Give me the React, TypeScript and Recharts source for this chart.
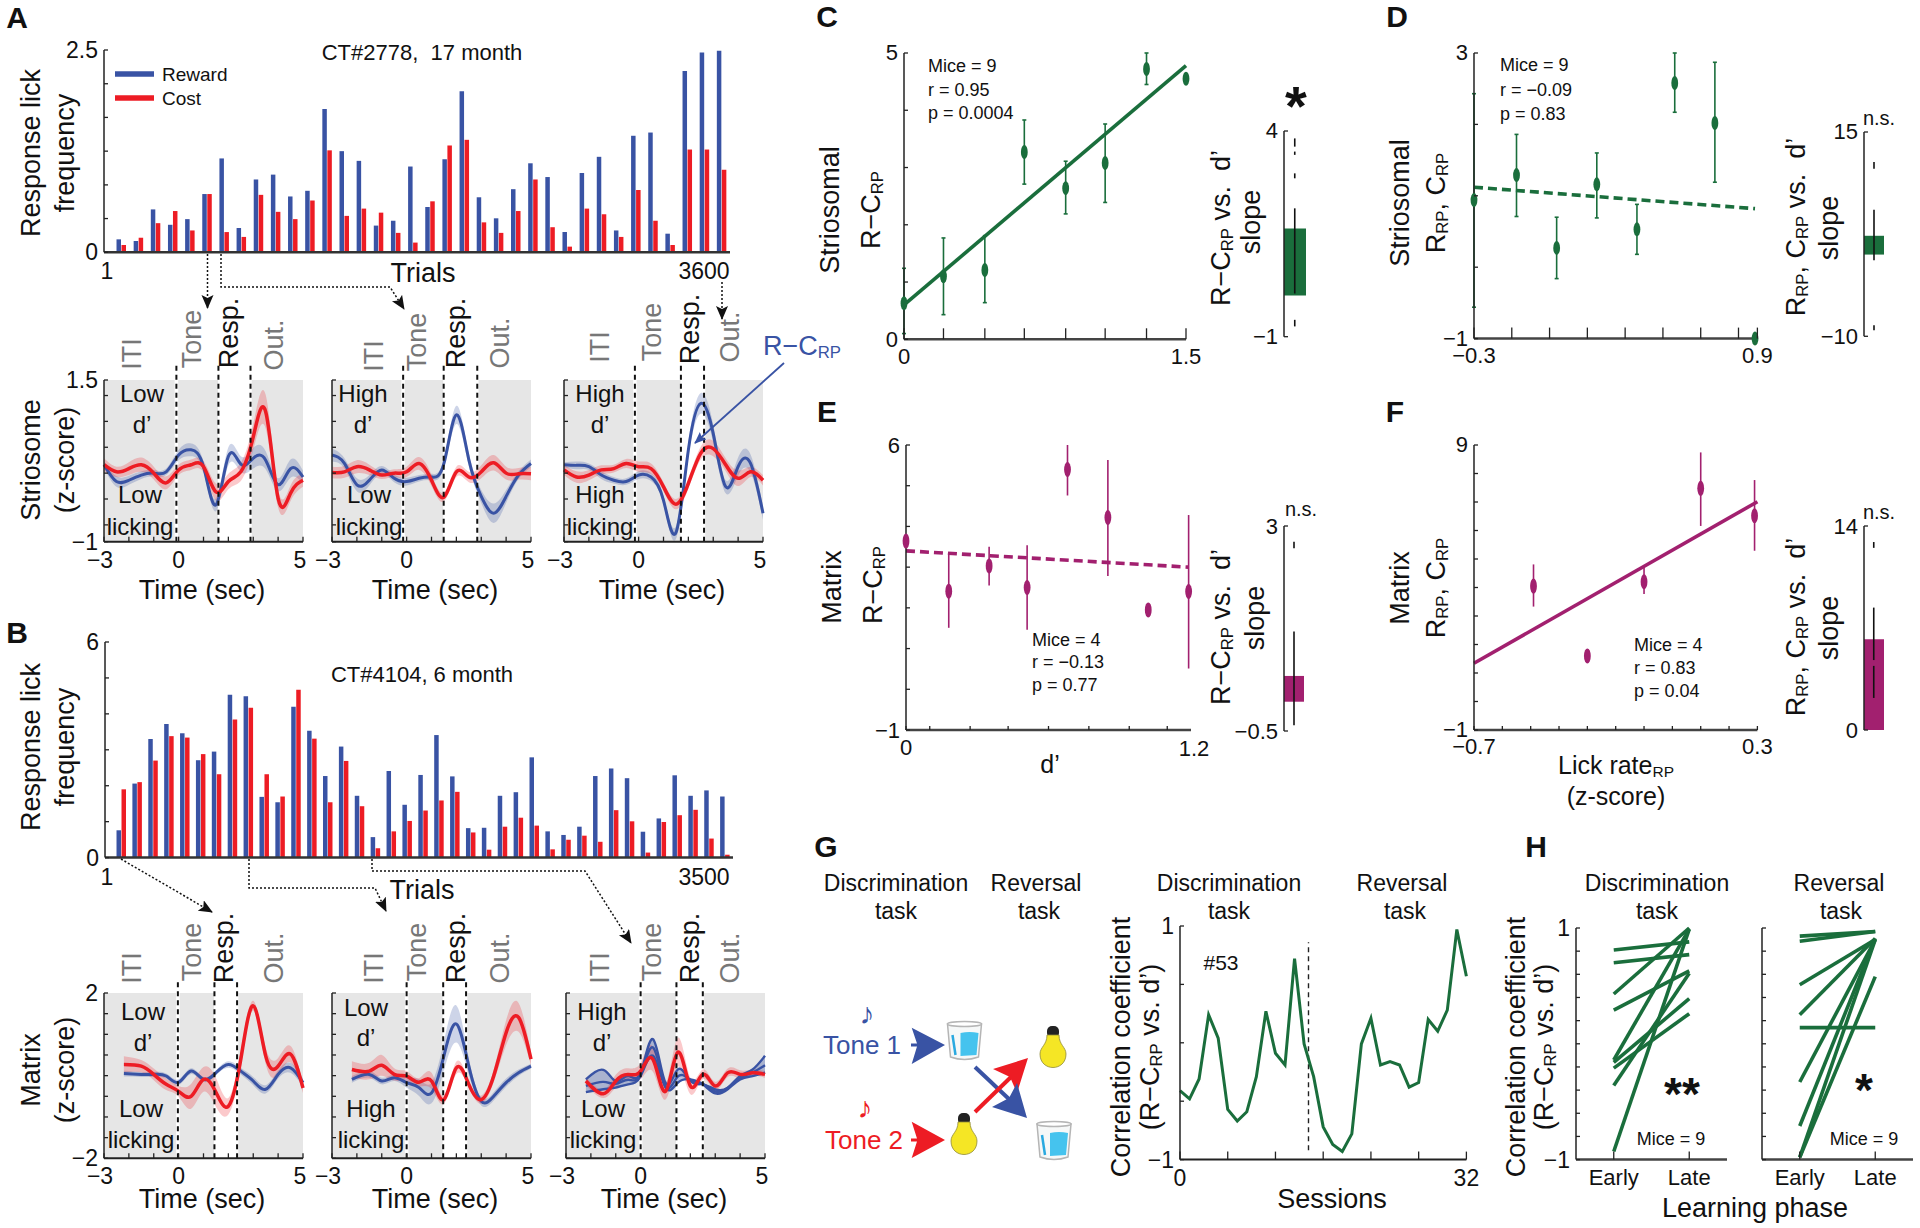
import React from "react"
import {
  BarChart, Bar, ComposedChart, LineChart, Line, Area, XAxis, YAxis,
  ReferenceArea, ReferenceLine, ErrorBar,
} from "recharts"

const BLUE = "#3953a4"
const RED = "#ed1c24"
const GREEN = "#1a6e3c"
const PURPLE = "#a2206f"
const GRAY = "#777777"

// lick frequency bars
const aReward = [.16,.14,.53,.34,.41,.72,1.16,.30,.90,.96,.69,.76,1.77,1.25,1.13,.33,.39,1.06,.56,1.15,1.99,.68,.42,.78,1.10,.93,.25,.98,1.18,.27,1.44,1.48,.23,2.24,2.47,2.49]
const aCost = [.09,.18,.36,.51,.27,.72,.25,.19,.71,.50,.41,.64,1.26,.45,.54,.49,.24,.12,.63,1.32,1.39,.37,.24,.51,.90,.31,.07,.54,.47,.19,.77,.39,.09,1.27,1.27,1.02]
const bReward = [.76,2.06,3.30,3.72,3.46,2.71,2.95,4.53,4.49,1.69,1.54,4.20,3.53,2.27,3.09,1.72,.57,2.41,1.47,2.30,3.41,2.26,.82,.83,1.72,1.82,2.79,.73,.63,.86,2.27,2.48,2.21,.72,1.09,2.29,1.72,1.87,1.70]
const bCost = [1.90,2.10,2.70,3.38,3.34,2.88,2.32,3.84,4.17,2.32,1.70,4.67,3.31,1.54,2.69,1.43,.26,.73,1.02,1.31,1.59,1.83,.70,.22,.86,1.11,.89,.23,.50,.61,.44,1.32,1.01,.14,.99,1.18,1.33,.53,.08]

// z-score traces
const aTimes = [-3,-2.5,-2,-1.5,-1,-.5,0,.5,1,1.5,2,2.5,3,3.5,4,4.5,5]
const bTimes = [-2.2,-1.5,-1,-.5,0,.5,1,1.5,2,2.5,3,3.5,4,4.5,5]

const a1Blue = [.19,-.07,-.05,.03,.06,.08,.34,.42,.16,-.43,.32,.2,.29,.26,-.12,.13,0]
const a1BlueHw = [.05,.08,.07,.06,.05,.05,.08,.1,.08,.1,.14,.12,.16,.14,.1,.14,.1]
const a1Red = [.19,.08,.13,.19,.06,-.09,.11,.19,.16,-.23,-.07,.08,.62,1.01,-.33,-.25,-.05]
const a1RedHw = [.1,.08,.1,.11,.1,.1,.08,.08,.09,.13,.12,.14,.2,.26,.14,.12,.1]

const a2Blue = [.34,.21,-.12,-.05,.11,-.02,-.07,-.02,0,.21,.96,.27,-.30,-.56,-.30,.03,.21]
const a2BlueHw = [.1,.08,.1,.08,.06,.06,.06,.05,.05,.07,.14,.1,.1,.15,.1,.06,.06]
const a2Red = [.07,.08,.16,.11,.03,.06,.08,.21,-.05,-.31,.08,0,.08,.22,.06,.05,.05]
const a2RedHw = [.09,.09,.1,.08,.06,.06,.08,.1,.09,.07,.08,.08,.1,.12,.1,.09,.1]

const a3Blue = [.19,.18,.16,.03,-.05,-.07,.03,0,-.36,-.86,.42,1.14,.67,-.15,.16,.21,-.56]
const a3BlueHw = [.04,.06,.05,.06,.05,.05,.06,.06,.07,.1,.12,.16,.14,.1,.14,.14,.1]
const a3Red = [.11,0,.03,.11,.13,.21,.16,.13,-.15,-.42,-.10,.37,.44,.19,-.02,.08,-.05]
const a3RedHw = [.08,.09,.08,.07,.06,.07,.08,.08,.07,.08,.08,.1,.12,.1,.12,.08,.08]

const b1Blue = [.05,.03,.03,-.01,-.16,.11,-.09,.07,.27,.11,-.13,-.33,.03,.19,-.17]
const b1BlueHw = [.07,.06,.06,.06,.07,.07,.06,.06,.08,.08,.1,.1,.1,.12,.1]
const b1Red = [.27,.23,.03,-.21,-.38,-.5,-.09,-.4,-.74,.4,1.69,.48,.23,.52,-.3]
const b1RedHw = [.2,.15,.14,.14,.13,.3,.3,.35,.2,.2,.12,.2,.2,.2,.12]

const b2Blue = [-.09,.03,-.13,-.05,-.17,-.29,-.42,.48,1.25,.23,-.62,-.5,-.17,.07,.23]
const b2BlueHw = [.08,.08,.08,.08,.12,.2,.25,.35,.45,.2,.1,.1,.1,.08,.06]
const b2Red = [.15,.11,.25,.03,-.01,-.16,-.13,-.58,.19,-.21,-.58,-.01,1.04,1.41,.4]
const b2RedHw = [.2,.2,.25,.15,.12,.1,.2,.1,.15,.08,.1,.15,.3,.35,.15]

const b3BlueUpper = [-.09,.14,-.13,-.01,.07,.88,-.17,.15,-.13,-.21,-.33,-.29,-.01,.15,.48]
const b3BlueMiddle = [-.25,-.15,-.2,-.1,.03,.68,-.25,-.02,-.1,-.2,-.38,-.3,-.05,.08,.25]
const b3BlueLower = [-.4,-.33,-.29,-.21,-.01,.48,-.29,-.17,-.09,-.21,-.43,-.33,-.09,-.01,.07]
const b3Red = [-.13,-.44,-.13,.03,.11,.39,-.38,.57,-.25,.03,-.25,.07,.03,.07,.03]
const b3RedHw = [.1,.1,.15,.15,.2,.3,.2,.35,.2,.12,.1,.1,.1,.08,.08]

// scatter panels
const cX = [0,.21,.43,.64,.86,1.07,1.29,1.5]
const cY = [.63,1.10,1.21,3.27,2.64,3.08,4.72,4.55]
const cLow = [.1,.43,.64,2.71,2.19,2.39,4.45,4.55]
const cHigh = [1.24,1.77,1.81,3.83,3.11,3.76,5,4.55]
const cFit = [.6,4.78]

const dX = [-.3,-.12,.05,.22,.39,.55,.72,.89]
const dY = [.94,1.29,.27,1.16,.53,2.58,2.02,-1]
const dLow = [-.56,.71,-.16,.69,.18,2.17,1.19,-1]
const dHigh = [2.43,1.86,.70,1.60,.88,3,2.87,-1]
const dFit = [1.12,.82]

const eX = [0,.18,.35,.51,.68,.85,1.02,1.19]
const eY = [3.64,2.41,3.03,2.50,5.40,4.22,1.95,2.40]
const eLow = [3.64,1.51,2.55,1.46,4.76,2.78,1.95,.51]
const eHigh = [3.64,3.36,3.50,3.54,6,5.63,1.95,4.28]
const eFit = [3.40,3.0]

const fX = [-.49,-.3,-.1,.1,.29]
const fY = [4.05,1.6,4.2,7.48,6.52]
const fLow = [3.33,1.6,3.77,6.16,5.29]
const fHigh = [4.81,1.6,4.73,8.74,7.77]
const fFit = [1.34,7.01]

// slope summaries, whisker pieces are [high, low]
const cSlope = 1.63
const cWhisker = [[3.82,3.62],[3.5,3.42],[2.97,2.85],[2.12,.05],[-.59,-.75]]
const dSlope = 2.3
const dWhisker = [[11.33,10.5],[5.5,-.7],[-8.65,-9.26]]
const eSlope = .44
const eWhisker = [[2.73,2.62],[1.2,-.4]]
const fSlope = 6.22
const fWhisker = [[12.9,12.5],[8.4,4.8],[4.4,2.2]]

// panel G
const gSessions = [0,1,2,3,4,5,6,7,8,9,10,11,12,13,14,15,16,17,18,19,20,21,22,23,24,25,26,27,28,29,30]
const gCorr = [-.41,-.48,-.31,.24,.04,-.57,-.67,-.59,-.29,.27,-.09,-.19,.72,-.01,-.29,-.72,-.87,-.93,-.78,-.01,.21,-.19,-.16,-.19,-.38,-.34,.2,.1,.28,.97,.57]

// panel H
const h1Early = [.81,.70,.43,.29,-.16,-.14,-.21,-.36,-.93]
const h1Late = [.88,.77,1,.63,.39,.99,.26,.61,.99]
const h2Early = [.93,.885,.51,.25,.14,-.33,-.71,-.98,-.98]
const h2Late = [.97,.97,.90,.91,.14,.90,.91,.90,.58]

const PAD_L = 50
const PAD_T = 20
const PAD_B = 40
const PAD_R = 30

const xTick = (labels: Record<string, string>, dy = 18, size = 23, len = 5, shift: Record<string, number> = {}) => (p: any) => {
  const key = String(p.payload.value)
  const label = labels[key]
  return (
    <g>
      <line x1={p.x} x2={p.x} y1={p.y} y2={p.y - len} stroke="#222" strokeWidth={1.3} />
      {label ? <text x={p.x + (shift[key] || 0)} y={p.y + dy} fontSize={size} textAnchor="middle" dominantBaseline="central" fill="#111">{label}</text> : null}
    </g>
  )
}

const yTick = (labels: Record<string, string>, size = 23) => (p: any) => {
  const label = labels[String(p.payload.value)]
  return (
    <g>
      <line x1={p.x} x2={p.x + 4} y1={p.y} y2={p.y} stroke="#222" strokeWidth={1.3} />
      {label ? <text x={p.x - 6} y={p.y} fontSize={size} textAnchor="end" dominantBaseline="central" fill="#111">{label}</text> : null}
    </g>
  )
}

const box = (x: number, y: number): React.CSSProperties => ({ position: "absolute", left: x - PAD_L, top: y - PAD_T })
const chartMargin = { top: PAD_T, right: PAD_R, bottom: 0, left: 0 }

function LickBars({ x, y, w, h, reward, cost, yMax, yTicks, yLabels }: any) {
  const rows = reward.map((v: number, i: number) => ({ i, reward: v, cost: cost[i] }))
  return (
    <div style={box(x, y)}>
      <BarChart width={w + PAD_L + PAD_R} height={h + PAD_T + PAD_B} data={rows} margin={chartMargin} barSize={4.5} barGap={0.5}>
        <XAxis dataKey="i" height={PAD_B} tick={false} tickLine={false} padding={{ left: 8.5, right: 0 }} axisLine={{ stroke: "#333", strokeWidth: 2.5 }} />
        <YAxis width={PAD_L} domain={[0, yMax]} ticks={yTicks} interval={0} tickSize={0} tickMargin={0} tickLine={false} tick={yTick(yLabels)} axisLine={{ stroke: "#222", strokeWidth: 1.5 }} />
        <Bar dataKey="reward" fill={BLUE} isAnimationActive={false} />
        <Bar dataKey="cost" fill={RED} isAnimationActive={false} />
      </BarChart>
    </div>
  )
}

const timeLabels = { "-3": "−3", "0": "0", "5": "5" }
const timeShift = { "-3": -4, "5": -3 }
const timeTicks = [-3, -2, -1, 0, 1, 2, 3, 4, 5]

function Trace({ x, y, w, h, times, blue, blueHw, blueMiddle, blueLower, red, redHw, events, yDomain, yTicks, yLabels, over }: any) {
  const rows = times.map((t: number, i: number) => ({
    t,
    blue: blue[i],
    blue2: blueLower ? blueLower[i] : null,
    blue3: blueMiddle ? blueMiddle[i] : null,
    blueBand: blueLower ? [blueLower[i], blue[i]] : [blue[i] - blueHw[i], blue[i] + blueHw[i]],
    red: red[i],
    redBand: [red[i] - redHw[i], red[i] + redHw[i]],
  }))
  const [e0, e1, e2] = events
  return (
    <div style={box(x, y)}>
      <ComposedChart width={w + PAD_L + PAD_R} height={h + PAD_T + PAD_B} data={rows} margin={chartMargin}>
        <XAxis dataKey="t" type="number" domain={[-3, 5]} ticks={timeTicks} interval={0} height={PAD_B} tickSize={0} tickMargin={0} tickLine={false} tick={xTick(timeLabels, 18, 23, 5, timeShift)} axisLine={{ stroke: "#222", strokeWidth: 2 }} />
        <YAxis width={PAD_L} type="number" domain={yDomain} ticks={yTicks} interval={0} tickSize={0} tickMargin={0} tickLine={false} tick={yTick(yLabels)} axisLine={{ stroke: "#222", strokeWidth: 1.5 }} />
        <ReferenceArea x1={-3} x2={e0 - .07} fill="#e6e6e6" fillOpacity={1} stroke="none" />
        <ReferenceArea x1={e0 + .07} x2={e1 - .02} fill="#e6e6e6" fillOpacity={1} stroke="none" />
        <ReferenceArea x1={e2 + .05} x2={5} fill="#e6e6e6" fillOpacity={1} stroke="none" />
        <Area dataKey="blueBand" type="natural" stroke="none" fill={BLUE} fillOpacity={blueLower ? .35 : .25} isAnimationActive={false} />
        <Line dataKey="blue" type="natural" stroke={BLUE} strokeWidth={blueLower ? 2.4 : 3} dot={false} isAnimationActive={false} />
        {blueLower ? <Line dataKey="blue2" type="natural" stroke={BLUE} strokeWidth={2.4} dot={false} isAnimationActive={false} /> : null}
        {blueMiddle ? <Line dataKey="blue3" type="natural" stroke={BLUE} strokeWidth={2.4} dot={false} isAnimationActive={false} /> : null}
        <Area dataKey="redBand" type="natural" stroke="none" fill={RED} fillOpacity={.24} isAnimationActive={false} />
        <Line dataKey="red" type="natural" stroke={RED} strokeWidth={3.5} dot={false} isAnimationActive={false} />
        {events.map((e: number) => (
          <ReferenceLine key={e} ifOverflow="visible" segment={[{ x: e, y: yDomain[0] }, { x: e, y: yDomain[1] + over }]} stroke="#111" strokeWidth={2} strokeDasharray="5 4" />
        ))}
      </ComposedChart>
    </div>
  )
}

function FitScatter({ x, y, w, h, xs, ys, low, high, fit, fitEnds, dashed, color, caps, ry, tickLen, xDomain, xTicks, xLabels, yDomain, yTicks, yLabels }: any) {
  const rows = xs.map((v: number, i: number) => ({ x: v, y: ys[i], err: [ys[i] - low[i], high[i] - ys[i]] as number[], fit: null as number | null }))
  const table = [
    { x: fitEnds[0], fit: fit[0] },
    ...rows.filter((r: any) => r.x !== fitEnds[0] && r.x !== fitEnds[1]),
    { x: fitEnds[1], fit: fit[1] },
  ]
  const ends = rows.filter((r: any) => r.x === fitEnds[0] || r.x === fitEnds[1])
  ends.forEach((r: any) => {
    const row: any = table.find((t: any) => t.x === r.x)
    if (row) { row.y = r.y; row.err = r.err }
  })
  const marker = (p: any) => p.payload.y == null ? <g key={p.index} /> : <ellipse key={p.index} cx={p.cx} cy={p.cy} rx={3.4} ry={ry} fill={color} />
  return (
    <div style={box(x, y)}>
      <ComposedChart width={w + PAD_L + PAD_R} height={h + PAD_T + PAD_B} data={table} margin={chartMargin}>
        <XAxis dataKey="x" type="number" domain={xDomain} ticks={xTicks} interval={0} height={PAD_B} tickSize={0} tickMargin={0} tickLine={false} tick={xTick(xLabels, 17, 22, tickLen)} axisLine={{ stroke: "#444", strokeWidth: 2.5 }} />
        <YAxis width={PAD_L} type="number" domain={yDomain} ticks={yTicks} interval={0} tickSize={0} tickMargin={0} tickLine={false} tick={yTick(yLabels, 22)} axisLine={{ stroke: "#222", strokeWidth: 1.5 }} />
        <Line dataKey="fit" connectNulls type="linear" stroke={color} strokeWidth={3.6} strokeDasharray={dashed ? "9 5" : undefined} dot={false} isAnimationActive={false} />
        <Line dataKey="y" stroke="none" connectNulls={false} dot={marker} isAnimationActive={false}>
          <ErrorBar dataKey="err" width={caps} stroke={color} strokeWidth={1.6} isAnimationActive={false} />
        </Line>
      </ComposedChart>
    </div>
  )
}

function SlopeBar({ x, y, w, h, value, whisker, color, yDomain, yTicks, yLabels }: any) {
  return (
    <div style={box(x, y)}>
      <BarChart width={w + PAD_L + PAD_R} height={h + PAD_T + PAD_B} data={[{ name: "slope", value }]} margin={chartMargin} barCategoryGap={0}>
        <XAxis dataKey="name" height={PAD_B} tick={false} tickLine={false} axisLine={false} />
        <YAxis width={PAD_L} type="number" domain={yDomain} ticks={yTicks} interval={0} tickSize={0} tickMargin={0} tickLine={false} tick={yTick(yLabels, 22)} axisLine={{ stroke: "#222", strokeWidth: 1.5 }} />
        <Bar dataKey="value" fill={color} isAnimationActive={false} />
        {whisker.map((s: number[], i: number) => (
          <ReferenceLine key={i} position="middle" ifOverflow="visible" segment={[{ x: "slope", y: s[0] }, { x: "slope", y: s[1] }]} stroke="#111" strokeWidth={1.6} />
        ))}
      </BarChart>
    </div>
  )
}

function SessionLine() {
  const rows = gSessions.map((s, i) => ({ s, r: gCorr[i] }))
  return (
    <div style={box(1180, 925.7)}>
      <LineChart width={286.4 + PAD_L + PAD_R} height={233.6 + PAD_T + PAD_B} data={rows} margin={chartMargin}>
        <XAxis dataKey="s" type="number" domain={[0, 30]} ticks={[0, 5, 10, 15, 20, 25, 30]} interval={0} height={PAD_B} tickSize={0} tickMargin={0} tickLine={false} tick={xTick({ "0": "0", "30": "32" }, 18, 23, 8)} axisLine={{ stroke: "#222", strokeWidth: 2 }} />
        <YAxis width={PAD_L} type="number" domain={[-1, 1]} ticks={[-1, -.5, 0, .5, 1]} interval={0} tickSize={0} tickMargin={0} tickLine={false} tick={yTick({ "1": "1", "-1": "−1" })} axisLine={{ stroke: "#222", strokeWidth: 1.5 }} />
        <ReferenceLine ifOverflow="visible" segment={[{ x: 13.46, y: -.92 }, { x: 13.46, y: .86 }]} stroke="#222" strokeWidth={1.4} strokeDasharray="5 4" />
        <Line dataKey="r" type="linear" stroke={GREEN} strokeWidth={3} dot={false} isAnimationActive={false} />
      </LineChart>
    </div>
  )
}

function PhaseLines({ x, early, late, yLabels }: any) {
  const rows = [0, 1].map((phase) => {
    const row: any = { phase }
    early.forEach((v: number, i: number) => { row["m" + i] = phase === 0 ? v : late[i] })
    return row
  })
  return (
    <div style={box(x, 927.7)}>
      <LineChart width={151 + PAD_L + PAD_R} height={231.6 + PAD_T + PAD_B} data={rows} margin={chartMargin}>
        <XAxis dataKey="phase" type="number" domain={[-.5, 1.5]} ticks={[0, 1]} interval={0} height={PAD_B} tickSize={0} tickMargin={0} tickLine={false} tick={xTick({ "0": "Early", "1": "Late" }, 18, 22, 8)} axisLine={{ stroke: "#444", strokeWidth: 2.5 }} />
        <YAxis width={PAD_L} type="number" domain={[-1, 1]} ticks={[-1, -.8, -.6, -.4, -.2, 0, .2, .4, .6, .8, 1]} interval={0} tickSize={0} tickMargin={0} tickLine={false} tick={yTick(yLabels)} axisLine={{ stroke: "#222", strokeWidth: 1.5 }} />
        {early.map((_: number, i: number) => (
          <Line key={i} dataKey={"m" + i} type="linear" stroke={GREEN} strokeWidth={3.6} dot={false} isAnimationActive={false} />
        ))}
      </LineChart>
    </div>
  )
}

function T({ x, y, size = 27, rot = 0, color = "#111", weight, left, children }: any) {
  return (
    <div style={{
      position: "absolute", left: x, top: y, fontSize: size, color, fontWeight: weight,
      whiteSpace: "nowrap", lineHeight: 1,
      transform: `translate(${left ? "0" : "-50%"},-50%) rotate(${rot}deg)`,
    }}>{children}</div>
  )
}

const Sub = ({ children }: any) => <sub style={{ fontSize: ".62em", verticalAlign: "-.22em", lineHeight: 0 }}>{children}</sub>
const RC = () => <>R−C<Sub>RP</Sub></>
const RpCp = () => <>R<Sub>RP</Sub>, C<Sub>RP</Sub></>

function Stages({ iti, tone, resp, out }: any) {
  return (
    <>
      <T x={iti[0]} y={iti[1]} rot={-90} color={GRAY}>ITI</T>
      <T x={tone[0]} y={tone[1]} rot={-90} color={GRAY}>Tone</T>
      <T x={resp[0]} y={resp[1]} rot={-90}>Resp.</T>
      <T x={out[0]} y={out[1]} rot={-90} color={GRAY}>Out.</T>
    </>
  )
}

function Corner({ x, a, b, c, d, ys }: any) {
  return (
    <>
      <T x={x[0]} y={ys[0]} size={24}>{a}</T>
      <T x={x[0]} y={ys[1]} size={24}>{b}</T>
      <T x={x[1]} y={ys[2]} size={24}>{c}</T>
      <T x={x[1]} y={ys[3]} size={24}>{d}</T>
    </>
  )
}

function Stats({ x, ys, lines }: any) {
  return lines.map((l: string, i: number) => <T key={i} x={x} y={ys[i]} size={18} left>{l}</T>)
}

function Overlay() {
  const dot = { fill: "none", stroke: "#111", strokeWidth: 1.5, strokeDasharray: "2 2" }
  const cup = (cx: number, cy: number) => (
    <g>
      <path d={`M${cx - 17} ${cy - 17} L${cx - 14} ${cy + 16} Q${cx} ${cy + 21} ${cx + 14} ${cy + 16} L${cx + 17} ${cy - 17} Z`} fill="#f6f8f8" stroke="#b5b5b5" strokeWidth={1.5} />
      <path d={`M${cx - 4} ${cy - 8} Q${cx + 5} ${cy - 10} ${cx + 14} ${cy - 8} L${cx + 12} ${cy + 14} L${cx - 4} ${cy + 15} Z`} fill="#45c3ee" />
      <line x1={cx - 12} y1={cy - 6} x2={cx - 9} y2={cy + 14} stroke="#2aa9e0" strokeWidth={2.5} />
      <ellipse cx={cx} cy={cy - 17} rx={17} ry={2.5} fill="#fff" stroke="#b5b5b5" strokeWidth={1.5} />
    </g>
  )
  const bulb = (cx: number, cy: number) => (
    <g>
      <rect x={cx - 6} y={cy - 27} width={12} height={12} rx={5} fill="#222" />
      <path d={`M${cx - 6} ${cy - 18} C${cx - 6} ${cy - 8} ${cx - 13} ${cy - 6} ${cx - 13} ${cy + 1} C${cx - 13} ${cy + 19} ${cx + 13} ${cy + 19} ${cx + 13} ${cy + 1} C${cx + 13} ${cy - 6} ${cx + 6} ${cy - 8} ${cx + 6} ${cy - 18} Z`} fill="#f5e625" stroke="#8f8a3a" strokeWidth={.8} />
    </g>
  )
  return (
    <svg width={1920} height={1228} style={{ position: "absolute", left: 0, top: 0 }}>
      <defs>
        <marker id="head" markerUnits="userSpaceOnUse" markerWidth={16} markerHeight={14} refX={13} refY={6} orient="auto">
          <path d="M0 0 L14 6 L0 12 L3 6 Z" fill="#111" />
        </marker>
        <marker id="headBlue" markerUnits="userSpaceOnUse" markerWidth={14} markerHeight={12} refX={11} refY={5} orient="auto">
          <path d="M0 0 L12 5 L0 10 L2 5 Z" fill={BLUE} />
        </marker>
      </defs>
      <path d="M207.5 254 V308" {...dot} markerEnd="url(#head)" />
      <path d="M221 254 V287 H390 L404 309" {...dot} markerEnd="url(#head)" />
      <path d="M722 282 V319" {...dot} markerEnd="url(#head)" />
      <path d="M121 859 L212 912" {...dot} markerEnd="url(#head)" />
      <path d="M249 859 V888 H375 L386 911" {...dot} markerEnd="url(#head)" />
      <path d="M372 859 V871 H585 L631 943" {...dot} markerEnd="url(#head)" />
      <path d="M784 363 L695 443" fill="none" stroke={BLUE} strokeWidth={1.8} markerEnd="url(#headBlue)" />
      <line x1={115} x2={154} y1={74} y2={74} stroke={BLUE} strokeWidth={5.5} />
      <line x1={115} x2={154} y1={98} y2={98} stroke={RED} strokeWidth={5.5} />
      <path d="M911.7 1027.7 L945 1045 L911.7 1064 L917 1046.5 H911 V1043.5 H917 Z" fill={BLUE} />
      <path d="M911.7 1121.7 L945 1140 L911.7 1158 L917 1141.5 H911 V1138.5 H917 Z" fill={RED} />
      <line x1={975} y1={1067} x2={1011} y2={1101} stroke={BLUE} strokeWidth={4} />
      <line x1={975} y1={1112} x2={1011} y2={1077} stroke={RED} strokeWidth={4} />
      <path d="M1028 1058 L1017 1093 L1010 1077 L993 1069 Z" fill={RED} />
      <path d="M1027 1118 L992 1107 L1009 1098 L1017 1083 Z" fill={BLUE} />
      {cup(964.5, 1041)}
      {cup(1054, 1141)}
      {bulb(1053, 1053)}
      {bulb(964, 1140)}
    </svg>
  )
}

export default function App() {
  const aY = [-1, -.74, -.34, .06, .46, .86, 1.26, 1.5]
  const bY = [-2, -1.5, -1, -.5, 0, .5, 1, 1.5, 2]
  const aYL = { "1.5": "1.5", "-1": "−1" }
  const bYL = { "2": "2", "-2": "−2" }
  const tw = 199
  const ah = 161.7
  const bh = 165.3
  return (
    <div style={{ position: "absolute", left: 0, top: 0, width: 1920, height: 1228, background: "#fff", overflow: "hidden", fontFamily: "'Liberation Sans', Arial, sans-serif" }}>
      <LickBars x={103.5} y={50} w={626} h={202.3} reward={aReward} cost={aCost} yMax={2.5} yTicks={[0, .417, .833, 1.25, 1.667, 2.083, 2.5]} yLabels={{ "0": "0", "2.5": "2.5" }} />
      <LickBars x={104.5} y={641.7} w={628} h={215.6} reward={bReward} cost={bCost} yMax={6} yTicks={[0, 1, 2, 3, 4, 5, 6]} yLabels={{ "0": "0", "6": "6" }} />

      <Trace x={103.5} y={380} w={tw} h={ah} times={aTimes} blue={a1Blue} blueHw={a1BlueHw} red={a1Red} redHw={a1RedHw} events={[-.09, 1.6, 2.89]} yDomain={[-1, 1.5]} yTicks={aY} yLabels={aYL} over={.23} />
      <Trace x={331.5} y={380} w={tw} h={ah} times={aTimes} blue={a2Blue} blueHw={a2BlueHw} red={a2Red} redHw={a2RedHw} events={[-.14, 1.49, 2.84]} yDomain={[-1, 1.5]} yTicks={aY} yLabels={{}} over={.23} />
      <Trace x={563.5} y={380} w={tw} h={ah} times={aTimes} blue={a3Blue} blueHw={a3BlueHw} red={a3Red} redHw={a3RedHw} events={[-.15, 1.7, 2.63]} yDomain={[-1, 1.5]} yTicks={aY} yLabels={{}} over={.23} />

      <Trace x={103.5} y={993} w={tw} h={bh} times={bTimes} blue={b1Blue} blueHw={b1BlueHw} red={b1Red} redHw={b1RedHw} events={[-.03, 1.44, 2.35]} yDomain={[-2, 2]} yTicks={bY} yLabels={bYL} over={.3} />
      <Trace x={331.5} y={993} w={tw} h={bh} times={bTimes} blue={b2Blue} blueHw={b2BlueHw} red={b2Red} redHw={b2RedHw} events={[0, 1.47, 2.39]} yDomain={[-2, 2]} yTicks={bY} yLabels={{}} over={.3} />
      <Trace x={566} y={993} w={tw} h={bh} times={bTimes} blue={b3BlueUpper} blueMiddle={b3BlueMiddle} blueLower={b3BlueLower} red={b3Red} redHw={b3RedHw} events={[0, 1.44, 2.5]} yDomain={[-2, 2]} yTicks={bY} yLabels={{}} over={.3} />

      <FitScatter x={903.6} y={53} w={282} h={286.3} xs={cX} ys={cY} low={cLow} high={cHigh} fit={cFit} fitEnds={[0, 1.5]} color={GREEN} caps={2} ry={7} tickLen={11} xDomain={[0, 1.5]} xTicks={cX} xLabels={{ "0": "0", "1.5": "1.5" }} yDomain={[0, 5]} yTicks={[0, 1, 2, 3, 4, 5]} yLabels={{ "0": "0", "5": "5" }} />
      <FitScatter x={1473.6} y={52.7} w={283.4} h={285.6} xs={dX} ys={dY} low={dLow} high={dHigh} fit={dFit} fitEnds={[-.3, .89]} dashed color={GREEN} caps={2} ry={7} tickLen={11} xDomain={[-.3, .9]} xTicks={[-.3, -.14, .02, .18, .34, .5, .66, .82, .9]} xLabels={{ "-0.3": "−0.3", "0.9": "0.9" }} yDomain={[-1, 3]} yTicks={[-1, 0, 1, 2, 3]} yLabels={{ "3": "3", "-1": "−1" }} />
      <FitScatter x={905.7} y={445} w={285} h={285} xs={eX} ys={eY} low={eLow} high={eHigh} fit={eFit} fitEnds={[0, 1.19]} dashed color={PURPLE} caps={0} ry={7.5} tickLen={4} xDomain={[0, 1.2]} xTicks={[0, .1, .27, .43, .6, .77, .94, 1.1]} xLabels={{ "0": "0" }} yDomain={[-1, 6]} yTicks={[-1, 0, 1, 2, 3, 4, 5, 6]} yLabels={{ "6": "6", "-1": "−1" }} />
      <FitScatter x={1473.6} y={445} w={283.4} h={285} xs={fX} ys={fY} low={fLow} high={fHigh} fit={fFit} fitEnds={[-.7, .3]} color={PURPLE} caps={0} ry={7.5} tickLen={4} xDomain={[-.7, .3]} xTicks={[-.7, -.6, -.5, -.4, -.3, -.2, -.1, 0, .1, .2, .3]} xLabels={{ "-0.7": "−0.7", "0.3": "0.3" }} yDomain={[-1, 9]} yTicks={[-1, 0, 1, 2, 3, 4, 5, 6, 7, 8, 9]} yLabels={{ "9": "9", "-1": "−1" }} />

      <SlopeBar x={1283.6} y={131} w={21.5} h={205.7} value={cSlope} whisker={cWhisker} color={GREEN} yDomain={[-1, 4]} yTicks={[-1, 4]} yLabels={{ "4": "4", "-1": "−1" }} />
      <SlopeBar x={1864} y={131.7} w={20} h={204.3} value={dSlope} whisker={dWhisker} color={GREEN} yDomain={[-10, 15]} yTicks={[-10, 15]} yLabels={{ "15": "15", "-10": "−10" }} />
      <SlopeBar x={1283.6} y={526} w={20} h={205} value={eSlope} whisker={eWhisker} color={PURPLE} yDomain={[-.5, 3]} yTicks={[-.5, 3]} yLabels={{ "3": "3", "-0.5": "−0.5" }} />
      <SlopeBar x={1864} y={526} w={19.5} h={204} value={fSlope} whisker={fWhisker} color={PURPLE} yDomain={[0, 14]} yTicks={[0, 14]} yLabels={{ "14": "14", "0": "0" }} />

      <SessionLine />
      <PhaseLines x={1576.4} early={h1Early} late={h1Late} yLabels={{ "1": "1", "-1": "−1" }} />
      <PhaseLines x={1762} early={h2Early} late={h2Late} yLabels={{}} />

      <Overlay />

      <T x={17} y={18} size={30} weight={700}>A</T>
      <T x={17} y={633} size={30} weight={700}>B</T>
      <T x={827} y={17} size={30} weight={700}>C</T>
      <T x={1397} y={17} size={30} weight={700}>D</T>
      <T x={827} y={412} size={30} weight={700}>E</T>
      <T x={1395} y={412} size={30} weight={700}>F</T>
      <T x={826} y={847} size={30} weight={700}>G</T>
      <T x={1536} y={847} size={30} weight={700}>H</T>

      <T x={31} y={153} rot={-90}>Response lick</T>
      <T x={65} y={153} rot={-90}>frequency</T>
      <T x={422} y={53} size={22}>CT#2778,&nbsp; 17 month</T>
      <T x={162} y={74} size={19} left>Reward</T>
      <T x={162} y={98} size={19} left>Cost</T>
      <T x={423} y={273}>Trials</T>
      <T x={107} y={271} size={23}>1</T>
      <T x={704} y={271} size={23}>3600</T>

      <T x={31} y={460} rot={-90}>Striosome</T>
      <T x={65} y={460} rot={-90}>(z-score)</T>
      <Stages iti={[132, 354]} tone={[192, 339]} resp={[229, 333]} out={[274, 345]} />
      <Stages iti={[374, 356]} tone={[417, 342]} resp={[456, 333]} out={[500, 343]} />
      <Stages iti={[600, 347]} tone={[652, 332]} resp={[690, 329]} out={[730, 337]} />
      <Corner x={[142, 140]} a="Low" b="d’" c="Low" d="licking" ys={[394, 425, 495, 527]} />
      <Corner x={[363, 369]} a="High" b="d’" c="Low" d="licking" ys={[394, 425, 495, 527]} />
      <Corner x={[600, 600]} a="High" b="d’" c="High" d="licking" ys={[394, 425, 495, 527]} />
      <T x={202} y={590}>Time (sec)</T>
      <T x={435} y={590}>Time (sec)</T>
      <T x={662} y={590}>Time (sec)</T>
      <T x={802} y={346} color={BLUE}><RC /></T>

      <T x={31} y={747} rot={-90}>Response lick</T>
      <T x={65} y={747} rot={-90}>frequency</T>
      <T x={422} y={675} size={22}>CT#4104, 6 month</T>
      <T x={422} y={890}>Trials</T>
      <T x={107} y={877} size={23}>1</T>
      <T x={704} y={877} size={23}>3500</T>

      <T x={31} y={1070} rot={-90}>Matrix</T>
      <T x={65} y={1070} rot={-90}>(z-score)</T>
      <Stages iti={[132, 968]} tone={[192, 952]} resp={[224, 948]} out={[274, 958]} />
      <Stages iti={[374, 968]} tone={[417, 952]} resp={[456, 948]} out={[500, 958]} />
      <Stages iti={[600, 968]} tone={[652, 952]} resp={[690, 948]} out={[730, 958]} />
      <Corner x={[143, 141]} a="Low" b="d’" c="Low" d="licking" ys={[1012, 1043, 1109, 1140]} />
      <Corner x={[366, 371]} a="Low" b="d’" c="High" d="licking" ys={[1008, 1038, 1109, 1140]} />
      <Corner x={[602, 603]} a="High" b="d’" c="Low" d="licking" ys={[1012, 1043, 1109, 1140]} />
      <T x={202} y={1199}>Time (sec)</T>
      <T x={435} y={1199}>Time (sec)</T>
      <T x={664} y={1199}>Time (sec)</T>

      <T x={830} y={210} rot={-90}>Striosomal</T>
      <T x={871} y={210} rot={-90}><RC /></T>
      <Stats x={928} ys={[66, 90, 113]} lines={["Mice = 9", "r = 0.95", "p = 0.0004"]} />
      <T x={1296} y={106} size={56} weight={700}>*</T>
      <T x={1221} y={228} rot={-90}><RC /> vs.&nbsp; d’</T>
      <T x={1251} y={222} rot={-90}>slope</T>

      <T x={1400} y={203} rot={-90}>Striosomal</T>
      <T x={1436} y={203} rot={-90}><RpCp /></T>
      <Stats x={1500} ys={[65, 90, 114]} lines={["Mice = 9", "r = −0.09", "p = 0.83"]} />
      <T x={1796} y={227} rot={-90}><RpCp /> vs.&nbsp; d’</T>
      <T x={1829} y={228} rot={-90}>slope</T>
      <T x={1879} y={118} size={20}>n.s.</T>

      <T x={832} y={587} rot={-90}>Matrix</T>
      <T x={873} y={585} rot={-90}><RC /></T>
      <Stats x={1032} ys={[640, 662, 685]} lines={["Mice = 4", "r = −0.13", "p = 0.77"]} />
      <T x={1194} y={749} size={22}>1.2</T>
      <T x={1050} y={764} size={25}>d’</T>
      <T x={1221} y={627} rot={-90}><RC /> vs.&nbsp; d’</T>
      <T x={1255} y={618} rot={-90}>slope</T>
      <T x={1301} y={509} size={20}>n.s.</T>

      <T x={1400} y={588} rot={-90}>Matrix</T>
      <T x={1436} y={588} rot={-90}><RpCp /></T>
      <Stats x={1634} ys={[645, 668, 691]} lines={["Mice = 4", "r = 0.83", "p = 0.04"]} />
      <T x={1616} y={765} size={25}>Lick rate<Sub>RP</Sub></T>
      <T x={1616} y={796} size={25}>(z-score)</T>
      <T x={1796} y={627} rot={-90}><RpCp /> vs.&nbsp; d’</T>
      <T x={1829} y={628} rot={-90}>slope</T>
      <T x={1879} y={512} size={20}>n.s.</T>

      <T x={896} y={883} size={23}>Discrimination</T>
      <T x={896} y={911} size={23}>task</T>
      <T x={1036} y={883} size={23}>Reversal</T>
      <T x={1039} y={911} size={23}>task</T>
      <T x={867} y={1014} size={30} color={BLUE}>♪</T>
      <T x={865} y={1108} size={30} color={RED}>♪</T>
      <T x={862} y={1045} size={26} color={BLUE}>Tone 1</T>
      <T x={864} y={1140} size={26} color={RED}>Tone 2</T>

      <T x={1229} y={883} size={23}>Discrimination</T>
      <T x={1229} y={911} size={23}>task</T>
      <T x={1402} y={883} size={23}>Reversal</T>
      <T x={1405} y={911} size={23}>task</T>
      <T x={1121} y={1047} rot={-90}>Correlation coefficient</T>
      <T x={1150} y={1047} rot={-90}>(<RC /> vs. d’)</T>
      <T x={1221} y={962} size={21}>#53</T>
      <T x={1332} y={1199}>Sessions</T>

      <T x={1657} y={883} size={23}>Discrimination</T>
      <T x={1657} y={911} size={23}>task</T>
      <T x={1839} y={883} size={23}>Reversal</T>
      <T x={1841} y={911} size={23}>task</T>
      <T x={1516} y={1047} rot={-90}>Correlation coefficient</T>
      <T x={1544} y={1047} rot={-90}>(<RC /> vs. d’)</T>
      <T x={1682} y={1094} size={46} weight={700}>**</T>
      <T x={1864} y={1090} size={46} weight={700}>*</T>
      <T x={1671} y={1139} size={18}>Mice = 9</T>
      <T x={1864} y={1139} size={18}>Mice = 9</T>
      <T x={1755} y={1208}>Learning phase</T>
    </div>
  )
}
